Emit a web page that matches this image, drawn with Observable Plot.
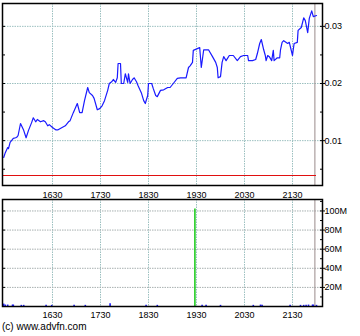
<!DOCTYPE html>
<html><head><meta charset="utf-8">
<script src="https://cdn.jsdelivr.net/npm/d3@7"></script>
<script src="https://cdn.jsdelivr.net/npm/@observablehq/plot@0.6"></script>
<style>
body{margin:0;background:#fff;}
#chart{width:360px;height:336px;position:relative;font-family:"Liberation Sans",Arial,sans-serif;background:#fff;}
svg{display:block}
#chart > svg:nth-of-type(2){margin-top:-3px;}
#caption{font-size:10px;line-height:14px;padding-left:2px;color:#000;margin-top:-2px;font-family:"Liberation Sans",Arial,sans-serif;}
</style></head><body><div id="chart"></div>
<script>
const times = ["15:29","15:31","15:34","15:35","15:37","15:41","15:44","15:46","15:47","15:50","15:54","15:57","16:00","16:04","16:06","16:09","16:11","16:15","16:19","16:21","16:24","16:26","16:30","16:34","16:37","16:42","16:46","16:50","16:52","16:56","17:01","17:04","17:07","17:10","17:14","17:16","17:20","17:22","17:26","17:29","17:32","17:35","17:39","17:41","17:44","17:46","17:49","17:51","17:52","17:55","17:56","17:59","18:01","18:04","18:05","18:07","18:10","18:12","18:15","18:17","18:21","18:24","18:26","18:29","18:30","18:34","18:36","18:39","18:41","18:45","18:49","18:54","18:57","19:01","19:06","19:10","19:17","19:20","19:22","19:25","19:26","19:31","19:34","19:36","19:39","19:45","19:50","19:54","19:56","19:57","20:00","20:02","20:04","20:07","20:11","20:16","20:21","20:25","20:29","20:34","20:35","20:40","20:44","20:46","20:49","20:51","20:54","20:56","20:57","20:59","21:01","21:04","21:06","21:07","21:11","21:14","21:15","21:17","21:19","21:24","21:26","21:30","21:32","21:36","21:37","21:41","21:44","21:46","21:49","21:51","21:54","21:56","22:00"];
const prices = [0.00705,0.0079,0.0088,0.0086,0.0097,0.0104,0.0105,0.0107,0.0109,0.0130,0.0118,0.0105,0.0118,0.0132,0.0140,0.0133,0.0137,0.0133,0.0135,0.0133,0.0126,0.0128,0.0123,0.0119,0.0119,0.0123,0.0126,0.0133,0.0135,0.0149,0.0165,0.0149,0.0149,0.0170,0.0193,0.0184,0.0179,0.0174,0.0154,0.0156,0.0161,0.0170,0.0188,0.0200,0.0203,0.0207,0.0202,0.0210,0.0235,0.0235,0.0200,0.0200,0.0217,0.0202,0.0217,0.0200,0.0207,0.0210,0.0203,0.0196,0.0184,0.0170,0.0165,0.0179,0.0200,0.0200,0.0191,0.0179,0.0177,0.0188,0.0189,0.0193,0.0193,0.0200,0.0209,0.0210,0.0210,0.0228,0.0231,0.0237,0.0258,0.0261,0.0263,0.0228,0.0259,0.0259,0.0247,0.0237,0.0228,0.0210,0.0212,0.0237,0.0247,0.0240,0.0249,0.0249,0.0240,0.0247,0.0249,0.0249,0.0240,0.0240,0.0242,0.0252,0.0270,0.0277,0.0259,0.0249,0.0240,0.0249,0.0247,0.0240,0.0258,0.0240,0.0245,0.0245,0.0259,0.0272,0.0275,0.0270,0.0272,0.0249,0.0270,0.0272,0.0293,0.0298,0.0315,0.0310,0.0289,0.0314,0.0327,0.0317,0.0319];
const volTimes = ["15:29","15:31","15:34","15:40","15:41","15:51","15:54","16:22","16:29","16:57","17:11","17:42","18:27","18:41","19:28","19:37","19:42","20:00","20:41","20:50","20:52","21:27","21:40","21:44","21:47","21:50","21:55","21:56","22:00"];
const volumes = [2.5e6,1.5e6,1.5e6,1.5e6,1.5e6,1.2e6,1.2e6,1.2e6,1.2e6,1.2e6,1.2e6,3e6,1.2e6,1.2e6,102e6,1.2e6,1.2e6,1.2e6,1.2e6,1.5e6,1.2e6,1.2e6,1.2e6,1.2e6,1.2e6,1.5e6,1.5e6,1.5e6,1.2e6];
const xTicks = ["16:30","17:30","18:30","19:30","20:30","21:30"];
const xDomain = ["15:27:30","22:07:30"];
const priceTicks = [0.01,0.02,0.03];
const priceMinor = [0.005,0.01,0.015,0.02,0.025,0.03];
const priceDomain = [0.00215,0.034];
const volTicks = [20e6,40e6,60e6,80e6,100e6];
const volMinor = [10e6,20e6,30e6,40e6,50e6,60e6,70e6,80e6,90e6,100e6,110e6];
const volDomain = [0,112e6];
const prevClose = 0.0039;
const marker = "21:58";

const parse = s => { const [h,m,sec=0] = s.split(":").map(Number); return new Date(Date.UTC(2024,0,1,h,m,sec)); };
const priceData = times.map((t,i)=>({t:parse(t),p:prices[i]}));
const volData = volTimes.map((t,i)=>({t:parse(t),v:volumes[i]}));
const gridColor = "#9cc0c0";
const font = {fontFamily:"Liberation Sans, Arial, sans-serif", fontSize:"9px", color:"#000", background:"#fff"};
const xt = xTicks.map(parse);

const priceChart = Plot.plot({
  width:360, height:201, marginLeft:2, marginRight:38, marginTop:3, marginBottom:16,
  style: font,
  x:{type:"utc", domain:xDomain.map(parse)},
  y:{domain:priceDomain},
  marks:[
    Plot.gridX(xt,{stroke:gridColor, strokeOpacity:1, strokeDasharray:"1.5,1"}),
    Plot.gridY(priceTicks,{stroke:gridColor, strokeOpacity:1, strokeDasharray:"1.5,1"}),
    Plot.ruleX([parse(marker)],{stroke:"#9a8a8a", strokeWidth:1}),
    Plot.ruleY([prevClose],{x1:parse(xDomain[0]), x2:parse(times[times.length-1]), stroke:"#e01010", strokeWidth:1.2}),
    Plot.lineY(priceData,{x:"t", y:"p", stroke:"#1a1aff", strokeWidth:1.2}),
    Plot.axisX(xt,{tickFormat:d3.utcFormat("%H%M"), tickSize:0, tickPadding:6, label:null}),
    Plot.axisY(priceTicks,{anchor:"right", tickFormat:d3.format(".2f"), tickSize:2, tickPadding:0, label:null}),
    Plot.axisY(priceMinor,{anchor:"right", tickSize:3, dx:-3, tickFormat:()=>"", label:null}),
    Plot.axisY(priceMinor,{anchor:"left", tickSize:3, dx:3, tickFormat:()=>"", label:null}),
    Plot.frame({stroke:"#000", strokeWidth:1.5})
  ]
});

const volumeChart = Plot.plot({
  width:360, height:124, marginLeft:2, marginRight:38, marginTop:1, marginBottom:16,
  style: {...font, background:"transparent"},
  x:{type:"utc", domain:xDomain.map(parse)},
  y:{domain:volDomain},
  marks:[
    Plot.gridX(xt,{stroke:gridColor, strokeOpacity:1, strokeDasharray:"1.5,1"}),
    Plot.gridY(volTicks,{stroke:"#a8b0b0", strokeOpacity:1, strokeDasharray:"1.5,1"}),
    Plot.ruleX([parse(marker)],{stroke:"#9a8a8a", strokeWidth:1}),
    Plot.ruleX(volData,{x:"t", y1:0, y2:"v", stroke:d=>d.v>50e6?"#22cc22":"#1a1aff", strokeWidth:1.6}),
    Plot.axisX(xt,{tickFormat:d3.utcFormat("%H%M"), tickSize:0, tickPadding:5, label:null}),
    Plot.axisY(volTicks,{anchor:"right", tickFormat:d=>d/1e6+"M", tickSize:2, tickPadding:0, label:null}),
    Plot.axisY(volMinor,{anchor:"right", tickSize:3, dx:-3, tickFormat:()=>"", label:null}),
    Plot.axisY(volTicks,{anchor:"left", tickSize:3, dx:3, tickFormat:()=>"", label:null}),
    Plot.frame({stroke:"#000", strokeWidth:1.5})
  ]
});

const chart = document.getElementById("chart");
chart.appendChild(priceChart);
chart.appendChild(volumeChart);
const cap = document.createElement("div");
cap.id = "caption";
cap.textContent = "(c) www.advfn.com";
chart.appendChild(cap);
</script>
</body></html>
